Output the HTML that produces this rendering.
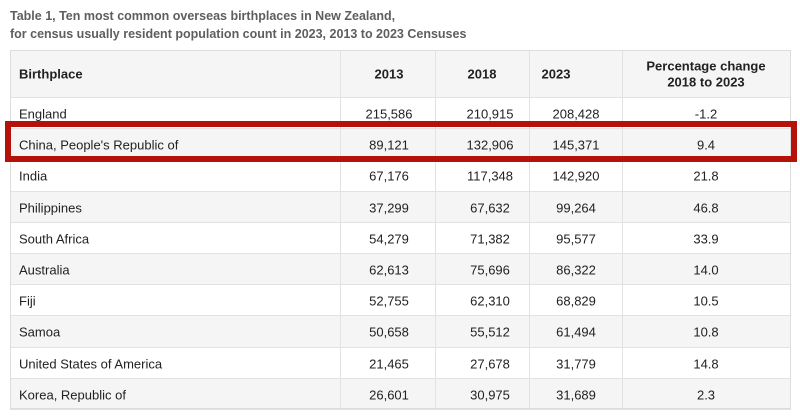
<!DOCTYPE html>
<html><head><style>
body{margin:0;width:800px;height:416px;background:#fff;font-family:"Liberation Sans",sans-serif;position:relative;overflow:hidden}
.t{position:absolute;left:10px;font-weight:bold;color:#5e5e5e;font-size:12.5px;white-space:nowrap}
.tbl{position:absolute;left:10px;top:50px;width:781px;height:359px;border:1px solid #ddd;box-sizing:border-box}
.row{position:absolute;left:10px;width:781px;height:31px;border-bottom:1px solid #e2e2e2;box-sizing:border-box}
.g{background:#f5f5f5}
.c{position:absolute;font-size:13px;color:#222;white-space:nowrap;transform:translate(-50%,-50%)}
.l{position:absolute;font-size:13px;color:#222;white-space:nowrap;transform:translateY(-50%);left:19px}
.v{position:absolute;top:50px;height:359px;width:1px;background:#e2e2e2}
.h{font-weight:bold}
</style></head><body>
<div class="t" style="top:9px">Table 1, Ten most common overseas birthplaces in New Zealand,</div>
<div class="t" style="top:27px">for census usually resident population count in 2023, 2013 to 2023 Censuses</div>
<div class="row g" style="top:50px;height:48px"></div>
<div id="rows"></div>
<div class="tbl"></div>
<div class="v" style="left:340px"></div><div class="v" style="left:435px"></div><div class="v" style="left:529px"></div><div class="v" style="left:622px"></div>
<div class="l h" style="top:74px">Birthplace</div>
<div class="c h" style="left:389px;top:74px">2013</div>
<div class="c h" style="left:482px;top:74px">2018</div>
<div class="c h" style="left:556px;top:74px">2023</div>
<div class="c h" style="left:706px;top:66px">Percentage change</div>
<div class="c h" style="left:706px;top:82px">2018 to 2023</div>
<script>
var d=[["England","215,586","210,915","208,428","-1.2"],["China, People's Republic of","89,121","132,906","145,371","9.4"],["India","67,176","117,348","142,920","21.8"],["Philippines","37,299","67,632","99,264","46.8"],["South Africa","54,279","71,382","95,577","33.9"],["Australia","62,613","75,696","86,322","14.0"],["Fiji","52,755","62,310","68,829","10.5"],["Samoa","50,658","55,512","61,494","10.8"],["United States of America","21,465","27,678","31,779","14.8"],["Korea, Republic of","26,601","30,975","31,689","2.3"]];
var h="",hb="";
d.forEach(function(r,i){var t=98+i*31.2,m=t+16;
hb+='<div class="row'+(i%2?' g':'')+'" style="top:'+t+'px;height:31.2px"></div>';
h+='<div class="l" style="top:'+m+'px">'+r[0]+'</div><div class="c" style="left:389px;top:'+m+'px">'+r[1]+'</div><div class="c" style="left:490px;top:'+m+'px">'+r[2]+'</div><div class="c" style="left:576px;top:'+m+'px">'+r[3]+'</div><div class="c" style="left:706px;top:'+m+'px">'+r[4]+'</div>';});
document.getElementById("rows").innerHTML=hb;
document.body.insertAdjacentHTML("beforeend",h+'<div style="position:absolute;left:5px;top:121px;width:792px;height:41px;border:6px solid #b5120b;box-sizing:border-box"></div>');
</script>
</body></html>
